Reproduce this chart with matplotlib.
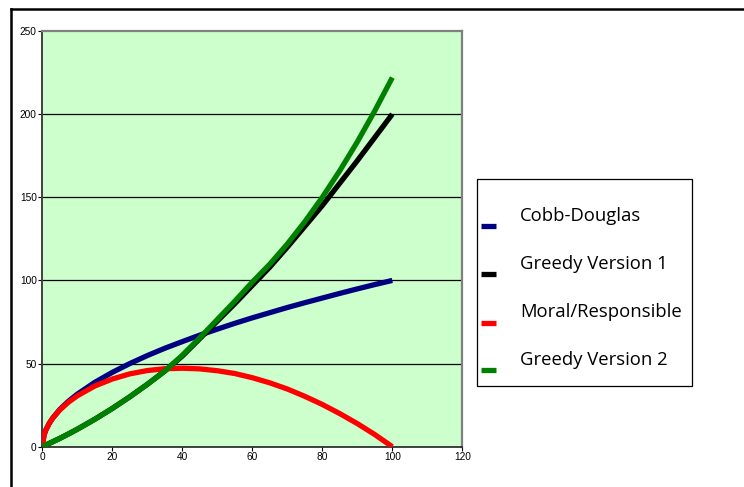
import matplotlib
matplotlib.use("Agg")
import matplotlib.pyplot as plt
from matplotlib.lines import Line2D
from matplotlib.patches import Rectangle

# Effort / input level
x_vals = [0, 0.5, 1, 2, 3, 5, 7.5, 10, 15, 20, 25, 30, 35, 40, 45, 50,
          55, 60, 65, 70, 75, 80, 85, 90, 95, 100]

cobb_douglas = [0, 7.1, 10, 14.1, 17.3, 22.4, 27.4, 31.6, 38.7, 44.7, 50, 54.8,
                59.2, 63.2, 67.1, 70.7, 74.2, 77.5, 80.6, 83.7, 86.6, 89.4,
                92.2, 94.9, 97.5, 100]

greedy_v1 = [0, 0.5, 1.0, 2.0, 3.0, 5.0, 7.7, 10.5, 16.5, 23, 30, 37.5, 45.5,
             54.5, 65, 75.5, 86, 97, 108, 120, 132.5, 145, 158.5, 172, 186, 200]

moral = [0, 7.1, 10, 14.1, 17.2, 22.1, 26.8, 30.6, 36.5, 40.7, 43.8, 45.8,
         46.9, 47.2, 46.8, 45.7, 44.0, 41.5, 38.4, 34.7, 30.3, 25.4, 19.9,
         13.9, 7.3, 0]

greedy_v2 = [0, 0.5, 1.0, 2.0, 3.0, 5.0, 7.7, 10.5, 16.5, 23, 30, 37.5, 45.5,
             55, 65.5, 76.5, 87.5, 99, 109.8, 121.9, 135.3, 150, 166, 183.3,
             202, 222]

series_names = ["Cobb-Douglas", "Greedy Version 1", "Moral/Responsible", "Greedy Version 2"]
series_colors = ["#000080", "#000000", "#FF0000", "#008000"]
series_data = [cobb_douglas, greedy_v1, moral, greedy_v2]

x_ticks = [0, 20, 40, 60, 80, 100, 120]
y_ticks = [0, 50, 100, 150, 200, 250]

W, H = 744, 487
fig = plt.figure(figsize=(W / 100, H / 100), dpi=100)
fig.patch.set_facecolor("white")

tick_font = {"family": "Liberation Sans", "size": 7.3}

ax = fig.add_axes([42.3 / W, 1 - 446.7 / H, 420 / W, 415.7 / H])
ax.set_facecolor("#CCFFCC")
ax.set_xlim(0, 120)
ax.set_ylim(0, 250)

for yv in y_ticks[1:-1]:
    ax.axhline(yv, color="black", lw=0.9, zorder=1)

for ys, col in zip(series_data, series_colors):
    ax.plot(x_vals, ys, color=col, lw=3.8, solid_capstyle="butt",
            solid_joinstyle="round", zorder=3)

ax.set_xticks(x_ticks)
ax.set_yticks(y_ticks)
ax.set_xticklabels([str(v) for v in x_ticks], fontdict=tick_font)
ax.set_yticklabels([str(v) for v in y_ticks], fontdict=tick_font)
ax.tick_params(axis="both", direction="out", length=3, width=0.8, pad=1.0,
               colors="black")

for side in ["top", "right"]:
    ax.spines[side].set_color("#808080")
    ax.spines[side].set_linewidth(1.6)
ax.spines["left"].set_color("#404040")
ax.spines["left"].set_linewidth(1.4)
ax.spines["bottom"].set_color("#202020")
ax.spines["bottom"].set_linewidth(1.2)

# Outer chart frame (top and left edges)
fig.add_artist(Line2D([11 / W, 1.0], [1 - 9 / H, 1 - 9 / H], color="black", lw=1.8))
fig.add_artist(Line2D([11 / W, 11 / W], [0, 1 - 9 / H], color="black", lw=1.8))

# Legend box
lx0, ly0, lx1, ly1 = 477.3, 179.3, 692.3, 386.0
fig.add_artist(Rectangle((lx0 / W, 1 - ly1 / H), (lx1 - lx0) / W, (ly1 - ly0) / H,
                         facecolor="white", edgecolor="black", lw=0.9))
text_y = [215.7, 263.7, 312.0, 359.7]
for name, col, ty in zip(series_names, series_colors, text_y):
    hy = ty + 10.5
    fig.add_artist(Line2D([481 / W, 496 / W], [1 - hy / H, 1 - hy / H],
                          color=col, lw=3.8, solid_capstyle="butt"))
    fig.text(520 / W, 1 - ty / H, name, fontsize=13.3, family="Open Sans",
             va="center", ha="left", color="black")

fig.savefig("out.png", dpi=100)
